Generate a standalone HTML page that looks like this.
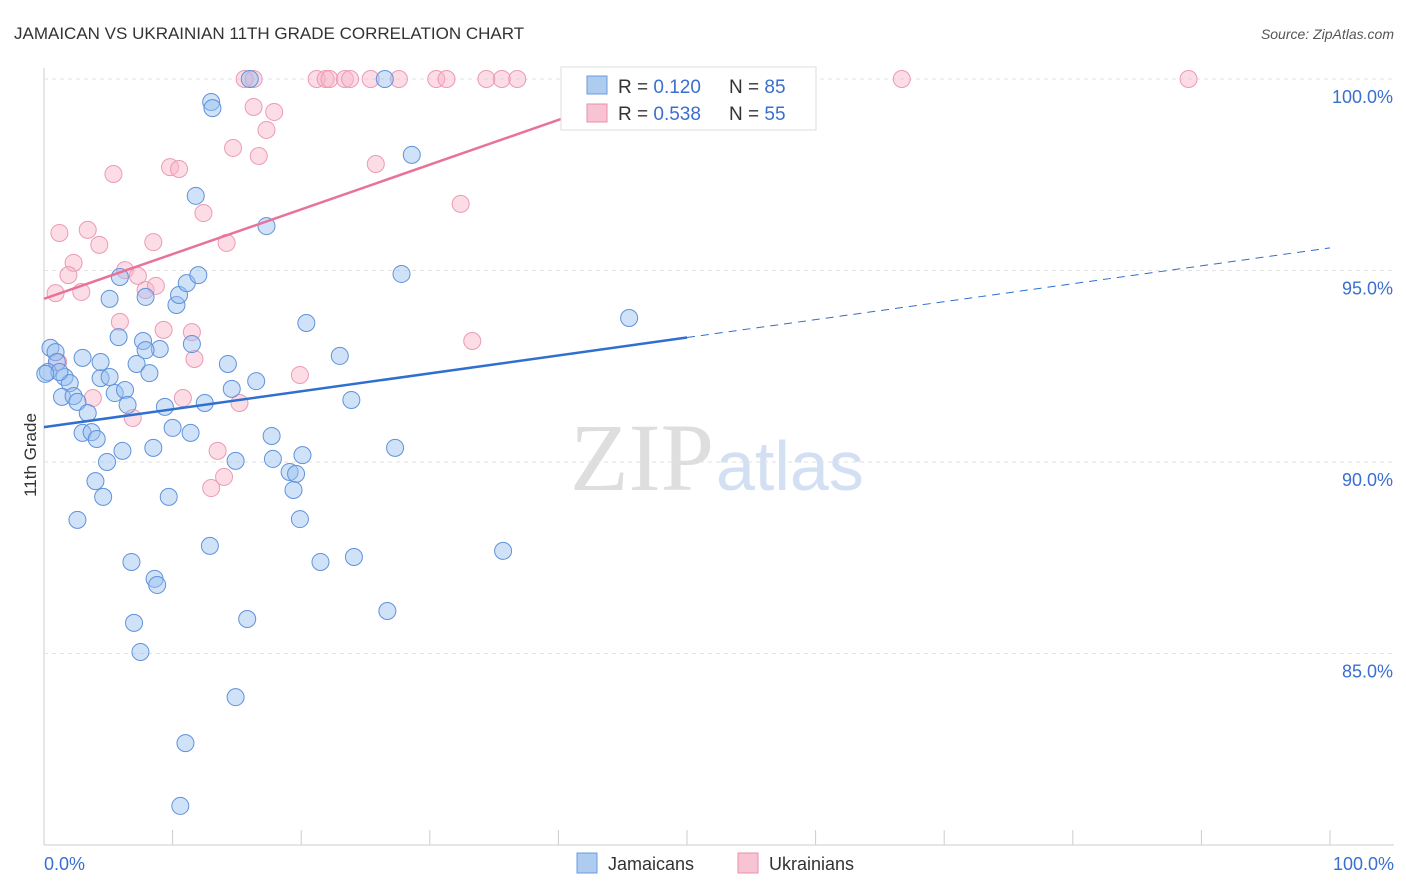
<!DOCTYPE html>
<html><head><meta charset="utf-8"><style>
body{margin:0;background:#fff;font-family:"Liberation Sans",sans-serif}
svg{display:block}
</style></head><body>
<svg id="chart" width="1406" height="892">
<text x="14" y="39" font-size="17" fill="#333">JAMAICAN VS UKRAINIAN 11TH GRADE CORRELATION CHART</text>
<text x="1394" y="39" font-size="14" fill="#555" text-anchor="end" font-style="italic">Source: ZipAtlas.com</text>
<text x="36" y="455" font-size="17" fill="#333" transform="rotate(-90 36 455)" text-anchor="middle">11th Grade</text>
<text x="714" y="490" font-size="96" fill="#dedede" text-anchor="end" font-family="Liberation Serif,serif">ZIP</text>
<text x="716" y="490" font-size="70" fill="#d3e0f3">atlas</text>
<g id="grid"></g><g id="pts"></g><g id="lines"></g>
<g>
<rect x="561" y="67" width="255" height="63" fill="#fff" stroke="#ddd"/>
<rect x="587" y="76" width="20" height="18" fill="#aecbf0" stroke="#6a9be0"/>
<rect x="587" y="104" width="20" height="18" fill="#f8c3d3" stroke="#ea8fae"/>
<text x="618" y="93" font-size="19" fill="#333">R = <tspan fill="#3a6fd0">0.120</tspan><tspan x="729">N = </tspan><tspan fill="#3a6fd0">85</tspan></text>
<text x="618" y="120" font-size="19" fill="#333">R = <tspan fill="#3a6fd0">0.538</tspan><tspan x="729">N = </tspan><tspan fill="#3a6fd0">55</tspan></text>
</g>
<rect x="577" y="853" width="20" height="20" fill="#aecbf0" stroke="#6a9be0"/>
<text x="608" y="870" font-size="18" fill="#333">Jamaicans</text>
<rect x="738" y="853" width="20" height="20" fill="#f8c3d3" stroke="#ea8fae"/>
<text x="769" y="870" font-size="18" fill="#333">Ukrainians</text>
</svg>
<script>
const yTicks=[100,95,90,85];
const yTickLabels=["100.0%","95.0%","90.0%","85.0%"];
const xTickLabels=["0.0%","100.0%"];
const blueX=[0.5,0.9,1.0,0.3,1.6,2.0,1.4,2.3,2.6,3.4,3.0,3.7,4.1,4.9,4.0,4.6,2.6,3.0,4.4,5.1,5.5,6.3,6.5,5.8,7.2,7.7,8.2,9.0,9.4,10.0,11.4,12.5,8.5,6.1,9.7,6.8,8.6,8.8,7.0,7.5,11.0,10.6,14.9,12.9,15.8,14.9,14.3,14.6,16.5,17.7,17.8,19.1,19.6,19.4,19.9,20.1,21.5,24.1,26.7,27.3,23.9,23.0,20.4,5.1,5.9,7.9,10.3,10.5,11.1,12.0,11.5,11.8,13.0,13.1,17.3,16.0,26.5,28.6,27.8,35.7,45.5,4.4,1.2,7.9,0.1];
const blueY=[92.98,92.87,92.61,92.35,92.22,92.06,91.70,91.72,91.57,91.28,90.76,90.78,90.60,90.0,89.50,89.09,88.49,92.72,92.19,92.22,91.80,91.88,91.49,93.26,92.56,93.16,92.32,92.95,91.44,90.89,90.76,91.54,90.37,90.29,89.09,87.39,86.95,86.79,85.80,85.04,82.66,81.02,83.86,87.81,85.90,90.03,92.56,91.91,92.11,90.68,90.08,89.74,89.69,89.27,88.51,90.18,87.39,87.52,86.11,90.37,91.62,92.77,93.63,94.26,94.83,94.31,94.10,94.36,94.67,94.88,93.08,96.95,99.40,99.24,96.16,100,100,98.02,94.91,87.68,93.76,92.61,92.35,92.92,92.3];
const pinkX=[1.2,3.4,2.3,1.9,0.9,2.9,4.3,5.4,8.5,6.3,7.3,7.9,8.7,9.8,10.5,12.4,14.2,14.7,16.7,17.3,17.9,16.3,15.6,16.3,21.2,21.9,22.2,23.4,23.8,25.4,27.6,30.5,31.3,34.4,35.6,36.8,47.7,66.7,89.0,25.8,32.4,5.9,9.3,11.5,11.7,19.9,10.8,6.9,15.2,3.8,13.5,13.0,14.0,33.3,1.1];
const pinkY=[95.98,96.06,95.20,94.88,94.41,94.44,95.67,97.52,95.74,95.01,94.86,94.49,94.60,97.70,97.65,96.50,95.72,98.20,97.99,98.67,99.14,99.27,100,100,100,100,100,100,100,100,100,100,100,100,100,100,100,100,100,97.78,96.74,93.66,93.45,93.39,92.69,92.27,91.67,91.15,91.54,91.67,90.29,89.32,89.61,93.16,92.61];
const blueTrend=[90.91,95.59];
const pinkTrend=[94.26,105.94];
const NS='http://www.w3.org/2000/svg';
const X0=44,X1=1330,YTOP=79,PPP=38.3;
const xs=v=>X0+(X1-X0)*v/100;
const ys=v=>YTOP+(100-v)*PPP;
function mk(tag,attrs,parent){const e=document.createElementNS(NS,tag);for(const k in attrs)e.setAttribute(k,attrs[k]);parent.appendChild(e);return e;}
const grid=document.getElementById('grid');
let ax=mk('line',{x1:44,y1:68,x2:44,y2:845,stroke:'#ccc'},grid);


let bx=mk('line',{x1:44,y1:845,x2:1394,y2:845,stroke:'#ccc'},grid);


yTicks.forEach((t,i)=>{
 const g=mk('line',{x1:44,x2:1394,y1:ys(t),y2:ys(t),stroke:'#e2e2e2','stroke-dasharray':'4,4'},grid);
 
 
 const l=mk('text',{x:1393,y:ys(t)+24,'font-size':18,fill:'#3a6fd0','text-anchor':'end'},grid);
 l.textContent=yTickLabels[i];
 
 
});
for(let i=0;i<=10;i++){
 const x=X0+(X1-X0)*i/10;
 const t=mk('line',{x1:x,x2:x,y1:830,y2:845,stroke:'#ccc'},grid);
 
 
}
[[0,'start',44],[1,'end',1394]].forEach(([i,a,x])=>{
 const l=mk('text',{x:x,y:870,'font-size':18,fill:'#3a6fd0','text-anchor':a},grid);
 l.textContent=xTickLabels[i];
 
 
});
const pts=document.getElementById('pts');
pinkX.forEach((v,i)=>{
 const c=mk('circle',{cx:xs(v),cy:ys(pinkY[i]),r:8.5,fill:'rgba(248,180,200,0.45)',stroke:'#ec9ab5','stroke-width':1},pts);
 
 
});
blueX.forEach((v,i)=>{
 const c=mk('circle',{cx:xs(v),cy:ys(blueY[i]),r:8.5,fill:'rgba(150,190,240,0.45)',stroke:'#5f92db','stroke-width':1},pts);
 
 
});
const lines=document.getElementById('lines');
const bAt=x=>blueTrend[0]+(blueTrend[1]-blueTrend[0])*x/100;
let l1=mk('line',{x1:xs(0),y1:ys(bAt(0)),x2:xs(50),y2:ys(bAt(50)),stroke:'#2f6fd0','stroke-width':2.5},lines);


let l2=mk('line',{x1:xs(50),y1:ys(bAt(50)),x2:xs(100),y2:ys(bAt(100)),stroke:'#2f6fd0','stroke-width':1,'stroke-dasharray':'8,6'},lines);


const pAt=x=>pinkTrend[0]+(pinkTrend[1]-pinkTrend[0])*x/100;
let l3=mk('line',{x1:xs(0),y1:ys(pAt(0)),x2:xs(50),y2:ys(pAt(50)),stroke:'#e8739a','stroke-width':2.5},lines);


</script>
</body></html>
